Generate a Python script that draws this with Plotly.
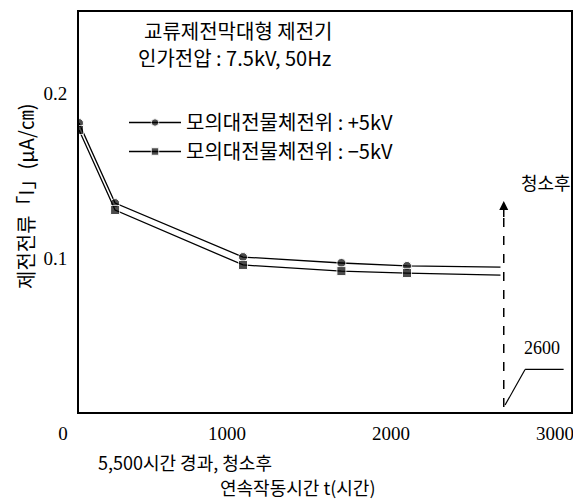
import plotly.graph_objects as go

# ---- data ----
hours_plus = [0, 220, 1000, 1600, 2000, 2570]
current_plus = [0.1818, 0.1333, 0.1006, 0.0970, 0.0952, 0.0945]
hours_minus = [0, 220, 1000, 1600, 2000, 2570]
current_minus = [0.1776, 0.1291, 0.0958, 0.0921, 0.0909, 0.0897]
marker_sizes = [9, 9, 9, 9, 9, 0]

series_names = ["모의대전물체전위 : +5kV", "모의대전물체전위 : −5kV"]
x_ticks = [0, 1000, 2000, 3000]
y_ticks = [0.1, 0.2]
y_tick_text = ["0.1", "0.2"]
clean_hour = 2590
clean_label = "2600"

KR = "Noto Sans CJK KR"
SERIF = "Liberation Serif"

# page body has an 8px margin; plot area should sit at x 79..571, y 12..412 on screen
OFF = 8
W, H = 581 - OFF, 502 - OFF
PX0, PX1, PY0, PY1 = 79, 571, 12, 412
L, R, T, B = PX0 - OFF, W - (PX1 - OFF), PY0 - OFF, H - (PY1 - OFF)
PW, PH = PX1 - PX0, PY1 - PY0


def px(x, y):
    return (x - PX0) / PW, (PY1 - y) / PH


fig = go.Figure()
fig.add_trace(go.Scatter(
    x=hours_plus, y=current_plus, mode="lines+markers", name=series_names[0],
    line=dict(color="black", width=1.3),
    marker=dict(symbol="circle", size=marker_sizes, color="black"),
))
fig.add_trace(go.Scatter(
    x=hours_minus, y=current_minus, mode="lines+markers", name=series_names[1],
    line=dict(color="black", width=1.3),
    marker=dict(symbol="square", size=marker_sizes, color="black"),
))

y_lo, y_hi = 0.0067, 0.2491

# dashed cleaning line with arrow
fig.add_shape(type="line", xref="x", yref="y", x0=clean_hour, x1=clean_hour,
              y0=y_lo + 0.003, y1=0.127, line=dict(color="black", width=1.5, dash="dash"))
fig.add_annotation(x=clean_hour, y=0.1345, ax=clean_hour, ay=0.124, xref="x", yref="y",
                   axref="x", ayref="y", text="", showarrow=True, arrowhead=2,
                   arrowsize=1.2, arrowwidth=1.5, arrowcolor="black")
fig.add_annotation(x=2850, y=0.146, xref="x", yref="y", text="청소후", showarrow=False,
                   xanchor="center", yanchor="middle",
                   font=dict(family=KR, size=18, color="black"))

# 2600 leader
fig.add_shape(type="line", xref="x", yref="y", x0=2598, y0=0.0109, x1=2720, y1=0.0325,
              line=dict(color="black", width=1.2))
fig.add_shape(type="line", xref="x", yref="y", x0=2720, y0=0.0325, x1=2955, y1=0.0325,
              line=dict(color="black", width=1.2))
fig.add_annotation(x=2825, y=0.038, xref="x", yref="y", xanchor="center", yanchor="bottom",
                   text=clean_label, showarrow=False,
                   font=dict(family=SERIF, size=18, color="black"))


def note(text, x, y, size, anchor="left", angle=0, family=KR):
    xp, yp = px(x, y)
    fig.add_annotation(x=xp, y=yp, xref="paper", yref="paper", xanchor=anchor, yanchor="middle",
                       text=text, textangle=angle, showarrow=False,
                       font=dict(family=family, size=size, color="black"))


# title texts inside plot
note("교류제전막대형 제전기", 142, 30, 20)
note("인가전압 : 7.5kV, 50Hz", 136, 57, 20)

# axis titles
note("제전전류「I」(μA/㎝)", 25, 196, 20, anchor="center", angle=-90)
note("5,500시간 경과, 청소후", 96, 462, 18)
note("연속작동시간 t(시간)", 297, 487, 18, anchor="center")

lx, ly = px(124, 103)
fig.update_layout(
    width=W, height=H,
    margin=dict(l=L, r=R, t=T, b=B, autoexpand=False),
    paper_bgcolor="white", plot_bgcolor="white",
    showlegend=True,
    legend=dict(x=lx, y=ly, xanchor="left", yanchor="top", bgcolor="rgba(0,0,0,0)",
                font=dict(family=KR, size=20, color="black"), itemwidth=52,
                tracegroupgap=0),
    xaxis=dict(range=[0, 3000], tickvals=x_ticks, ticks="", showgrid=False, zeroline=False,
               showline=True, linecolor="black", linewidth=2, mirror=True, automargin=False,
               tickfont=dict(family=SERIF, size=19, color="black"), ticklabelshift=-16,
               ticklabelstandoff=3),
    yaxis=dict(range=[y_lo, y_hi], tickvals=y_ticks, ticktext=y_tick_text, ticks="",
               showgrid=False, zeroline=False, showline=True, linecolor="black", linewidth=2,
               mirror=True, automargin=False, tickfont=dict(family=SERIF, size=19, color="black"),
               ticklabelstandoff=6),
)

fig.write_html("out.html")
